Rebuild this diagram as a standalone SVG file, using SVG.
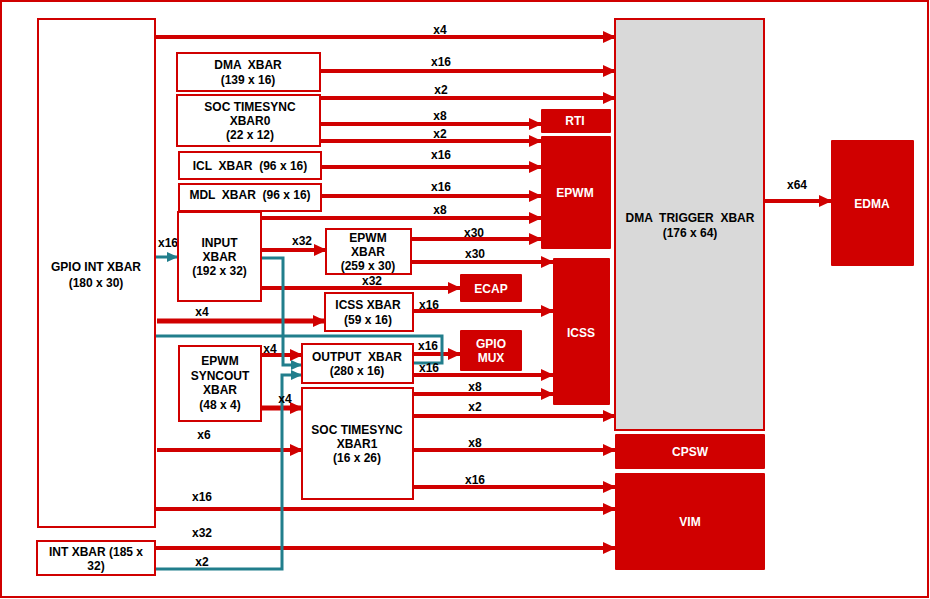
<svg xmlns="http://www.w3.org/2000/svg" width="930" height="599" viewBox="0 0 930 599">
<style>
.box{fill:#fff;stroke:#d00000;stroke-width:2}
.blk{fill:#d00000}
.t{font-family:"Liberation Sans",Arial,sans-serif;font-size:12px;font-weight:bold;fill:#000;text-anchor:middle;white-space:pre}
.w{fill:#fff}
.r{stroke:#d00000;stroke-width:4;fill:none;marker-end:url(#ar)}
.r5{stroke:#d00000;stroke-width:5;fill:none;marker-end:url(#ar)}
.g{stroke:#217e8c;stroke-width:3;fill:none;marker-end:url(#at)}
</style>
<defs>
<marker id="ar" markerUnits="userSpaceOnUse" markerWidth="13" markerHeight="12" refX="12" refY="6" orient="auto"><path d="M0,0 L13,6 L0,12 z" fill="#d00000"/></marker>
<marker id="at" markerUnits="userSpaceOnUse" markerWidth="11" markerHeight="10" refX="11" refY="5" orient="auto"><path d="M0,0 L11,5 L0,10 z" fill="#217e8c"/></marker>
</defs>
<rect x="0" y="0" width="930" height="599" fill="#fff"/>
<rect x="1" y="1" width="927" height="596" fill="none" stroke="#d00000" stroke-width="2"/>

<g id="connectors">
<line class="r" x1="155" y1="37" x2="615" y2="37"/>
<line class="r" x1="321" y1="71" x2="615" y2="71"/>
<line class="r" x1="320" y1="98" x2="615" y2="98"/>
<line class="r" x1="320" y1="124" x2="541" y2="124"/>
<line class="r" x1="320" y1="141" x2="541" y2="141"/>
<line class="r" x1="321" y1="167" x2="541" y2="167"/>
<line class="r" x1="321" y1="196" x2="541" y2="196"/>
<line class="r" x1="261" y1="218" x2="541" y2="218"/>
<line class="r" x1="261" y1="250" x2="326" y2="250"/>
<line class="r" x1="411" y1="239" x2="541" y2="239"/>
<line class="r" x1="411" y1="262" x2="553" y2="262"/>
<line class="r" x1="261" y1="288" x2="460" y2="288"/>
<line class="r5" x1="157" y1="321" x2="325" y2="321"/>
<line class="r" x1="413" y1="311" x2="553" y2="311"/>
<line class="r" x1="261" y1="355" x2="302" y2="355"/>
<line class="r" x1="413" y1="354" x2="460" y2="354"/>
<line class="r" x1="413" y1="375" x2="553" y2="375"/>
<line class="r" x1="413" y1="394" x2="553" y2="394"/>
<line class="r" x1="413" y1="416" x2="615" y2="416"/>
<line class="r5" x1="261" y1="408" x2="302" y2="408"/>
<line class="r" x1="157" y1="450" x2="302" y2="450"/>
<line class="r" x1="413" y1="450" x2="615" y2="450"/>
<line class="r" x1="413" y1="487" x2="615" y2="487"/>
<line class="r" x1="155" y1="509" x2="615" y2="509"/>
<line class="r" x1="155" y1="548" x2="615" y2="548"/>
<line class="r" x1="764" y1="201" x2="831" y2="201"/>
<polyline class="g" points="413,363 442,363 442,336 151,336 151,257 178,257"/>
<polyline class="g" points="261,258 283,258 283,365 302,365"/>
<polyline class="g" points="155,569 282,569 282,375 302,375"/>
<g class="t">
<text x="440" y="34">x4</text>
<text x="441" y="66">x16</text>
<text x="441" y="94">x2</text>
<text x="440" y="120">x8</text>
<text x="440" y="138">x2</text>
<text x="441" y="159">x16</text>
<text x="441" y="191">x16</text>
<text x="440" y="214">x8</text>
<text x="302" y="245">x32</text>
<text x="474" y="237">x30</text>
<text x="475" y="258">x30</text>
<text x="372" y="285">x32</text>
<text x="202" y="316">x4</text>
<text x="429" y="309">x16</text>
<text x="270" y="353">x4</text>
<text x="428" y="350">x16</text>
<text x="429" y="372">x16</text>
<text x="475" y="391">x8</text>
<text x="475" y="411">x2</text>
<text x="285" y="403">x4</text>
<text x="204" y="439">x6</text>
<text x="475" y="447">x8</text>
<text x="475" y="484">x16</text>
<text x="202" y="501">x16</text>
<text x="202" y="537">x32</text>
<text x="202" y="566">x2</text>
<text x="168" y="247">x16</text>
<text x="797" y="189">x64</text>
</g>
</g>

<g id="gpio-int-xbar"><rect class="box" x="38" y="19" width="117" height="508"/><text class="t" x="96" y="271">GPIO INT XBAR</text><text class="t" x="96" y="287">(180 x 30)</text></g>
<g id="int-xbar"><rect class="box" x="37" y="541" width="118" height="34"/><text class="t" x="96" y="556">INT XBAR (185 x</text><text class="t" x="96" y="570">32)</text></g>
<g id="dma-xbar"><rect class="box" x="177" y="53" width="143" height="38"/><text class="t" x="248" y="69" xml:space="preserve">DMA  XBAR</text><text class="t" x="248" y="84">(139 x 16)</text></g>
<g id="soc-timesync-xbar0"><rect class="box" x="177" y="95" width="143" height="51"/><text class="t" x="250" y="111">SOC TIMESYNC</text><text class="t" x="250" y="125">XBAR0</text><text class="t" x="250" y="139">(22 x 12)</text></g>
<g id="icl-xbar"><rect class="box" x="179" y="152" width="142" height="27"/><text class="t" x="250" y="170" xml:space="preserve">ICL  XBAR  (96 x 16)</text></g>
<g id="mdl-xbar"><rect class="box" x="179" y="184" width="142" height="27"/><text class="t" x="250" y="199" xml:space="preserve">MDL  XBAR  (96 x 16)</text></g>
<g id="input-xbar"><rect class="box" x="178" y="212" width="83" height="89"/><text class="t" x="219.5" y="247">INPUT</text><text class="t" x="219.5" y="261">XBAR</text><text class="t" x="219.5" y="275">(192 x 32)</text></g>
<g id="epwm-xbar"><rect class="box" x="326" y="229" width="85" height="45"/><text class="t" x="368" y="242">EPWM</text><text class="t" x="368" y="256">XBAR</text><text class="t" x="368" y="270">(259 x 30)</text></g>
<g id="icss-xbar"><rect class="box" x="325" y="293" width="88" height="38"/><text class="t" x="368" y="309">ICSS XBAR</text><text class="t" x="368" y="324">(59 x 16)</text></g>
<g id="output-xbar"><rect class="box" x="302" y="344" width="111" height="39"/><text class="t" x="357" y="361" xml:space="preserve">OUTPUT  XBAR</text><text class="t" x="357" y="375">(280 x 16)</text></g>
<g id="epwm-syncout-xbar"><rect class="box" x="179" y="346" width="82" height="75"/><text class="t" x="220" y="365">EPWM</text><text class="t" x="220" y="380">SYNCOUT</text><text class="t" x="220" y="394">XBAR</text><text class="t" x="220" y="409">(48 x 4)</text></g>
<g id="soc-timesync-xbar1"><rect class="box" x="302" y="388" width="111" height="111"/><text class="t" x="357" y="434">SOC TIMESYNC</text><text class="t" x="357" y="448">XBAR1</text><text class="t" x="357" y="462">(16 x 26)</text></g>
<g id="dma-trigger-xbar"><rect x="615" y="19" width="149" height="411" fill="#d9d9d9" stroke="#d00000" stroke-width="2"/><text class="t" x="690" y="222" xml:space="preserve">DMA  TRIGGER  XBAR</text><text class="t" x="690" y="237">(176 x 64)</text></g>
<g id="edma"><rect class="blk" x="831" y="140" width="83" height="126" rx="1"/><text class="t w" x="872" y="208">EDMA</text></g>
<g id="rti"><rect class="blk" x="541" y="109" width="70" height="24" rx="1"/><text class="t w" x="575" y="125">RTI</text></g>
<g id="epwm"><rect class="blk" x="541" y="136" width="70" height="113" rx="1"/><text class="t w" x="575" y="197">EPWM</text></g>
<g id="icss"><rect class="blk" x="553" y="258" width="57" height="147" rx="1"/><text class="t w" x="581" y="337">ICSS</text></g>
<g id="ecap"><rect class="blk" x="460" y="274" width="62" height="28" rx="1"/><text class="t w" x="491" y="293">ECAP</text></g>
<g id="gpio-mux"><rect class="blk" x="460" y="330" width="62" height="41" rx="1"/><text class="t w" x="491" y="348">GPIO</text><text class="t w" x="491" y="362">MUX</text></g>
<g id="cpsw"><rect class="blk" x="615" y="434" width="150" height="35" rx="1"/><text class="t w" x="690" y="456">CPSW</text></g>
<g id="vim"><rect class="blk" x="615" y="473" width="150" height="97" rx="1"/><text class="t w" x="690" y="526">VIM</text></g>
</svg>
